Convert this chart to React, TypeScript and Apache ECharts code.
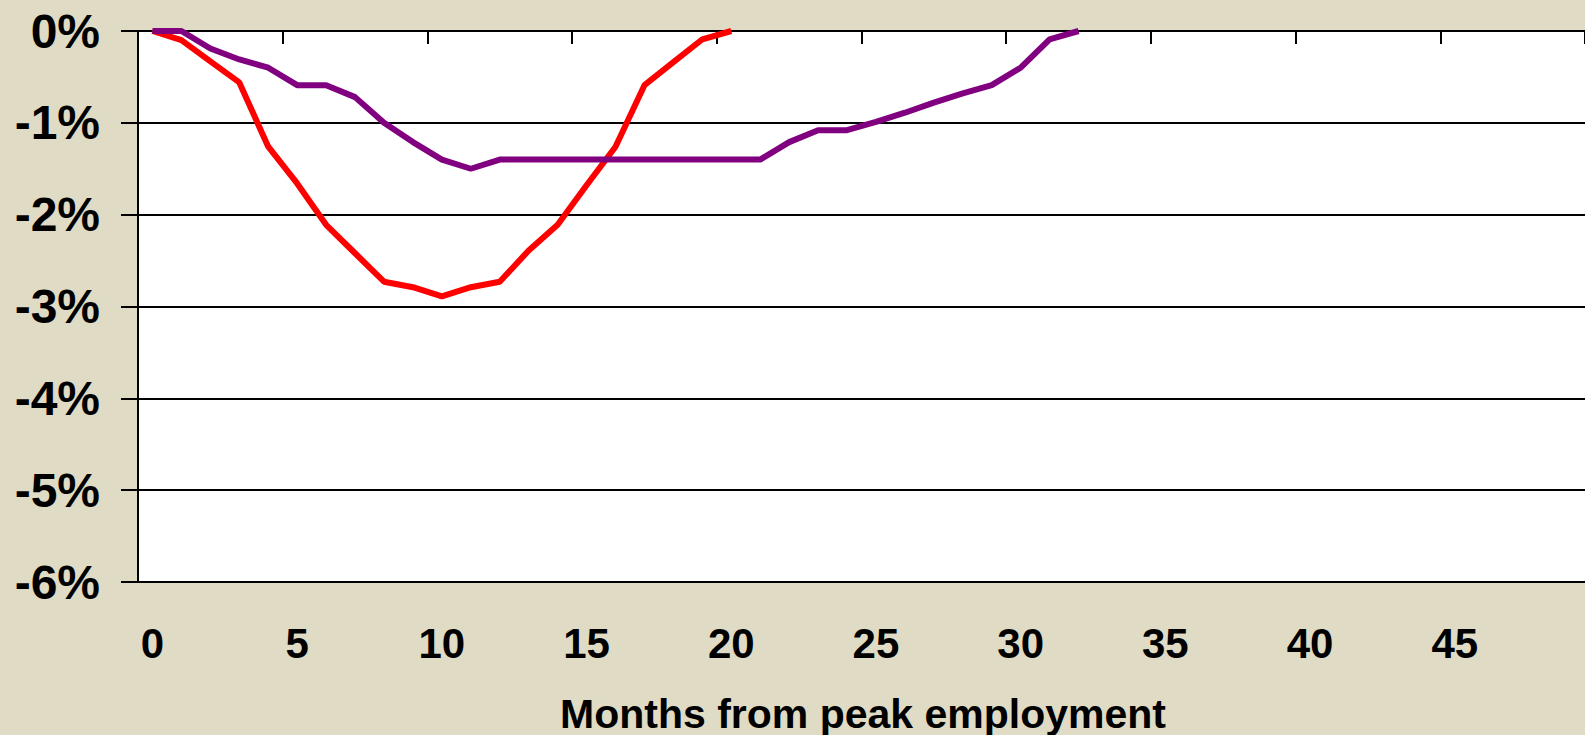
import React, { useEffect, useRef } from "react";
import * as echarts from "echarts";

const months: string[] = [];
for (let i = 0; i < 50; i++) months.push(String(i));

const redSeries = [
  0, -0.1, -0.33, -0.56, -1.26, -1.66, -2.11, -2.42, -2.73, -2.79, -2.89,
  -2.79, -2.73, -2.39, -2.11, -1.68, -1.26, -0.59, -0.34, -0.09, 0,
];

const purpleSeries = [
  0, 0, -0.19, -0.31, -0.4, -0.59, -0.59, -0.72, -1.0, -1.21, -1.4, -1.5,
  -1.4, -1.4, -1.4, -1.4, -1.4, -1.4, -1.4, -1.4, -1.4, -1.4, -1.21, -1.08,
  -1.08, -0.99, -0.89, -0.78, -0.68, -0.59, -0.4, -0.09, 0,
];

const axisTitle = "Months from peak employment";
const FONT = "'Liberation Sans', Arial, sans-serif";

export default function App() {
  const ref = useRef<HTMLDivElement>(null);
  useEffect(() => {
    document.body.style.margin = "0";
    document.body.style.background = "#DFDBC5";
    const chart = echarts.init(ref.current!, null, { renderer: "svg" });
    chart.setOption({
      animation: false,
      backgroundColor: "#DFDBC5",
      textStyle: { fontFamily: FONT },
      grid: {
        left: 138,
        top: 31,
        width: 1450,
        height: 551,
        show: true,
        backgroundColor: "#ffffff",
        borderWidth: 0,
      },
      xAxis: [
        {
          type: "category",
          data: months,
          position: "bottom",
          boundaryGap: true,
          axisLine: { show: true, lineStyle: { color: "#000", width: 2 } },
          axisTick: { show: false },
          axisLabel: {
            interval: 4,
            margin: 40,
            fontSize: 42,
            fontWeight: "bold",
            color: "#000",
            fontFamily: FONT,
          },
          splitLine: { show: false },
        },
        {
          type: "category",
          data: months,
          position: "top",
          boundaryGap: true,
          axisLine: { show: false },
          axisTick: {
            show: true,
            inside: true,
            length: 13,
            interval: (i: number) => i % 5 === 0 && i > 0,
            lineStyle: { color: "#000", width: 2 },
          },
          axisLabel: { show: false },
          splitLine: { show: false },
        },
      ],
      yAxis: {
        type: "value",
        min: -6,
        max: 0,
        interval: 1,
        axisLine: { show: true, lineStyle: { color: "#000", width: 2 } },
        axisTick: { show: true, length: 17, lineStyle: { color: "#000", width: 2 } },
        axisLabel: {
          margin: 38,
          fontSize: 48,
          fontWeight: "bold",
          color: "#000",
          fontFamily: FONT,
          formatter: (v: number) => `${v}%`,
        },
        splitLine: { show: true, lineStyle: { color: "#000", width: 2 } },
      },
      graphic: [
        {
          type: "text",
          x: 863,
          y: 693,
          style: {
            text: axisTitle,
            fontSize: 41,
            fontWeight: "bold",
            fontFamily: FONT,
            fill: "#000",
            align: "center",
            verticalAlign: "top",
          },
        },
      ],
      series: [
        {
          type: "line",
          data: redSeries,
          xAxisIndex: 0,
          showSymbol: false,
          symbol: "none",
          lineStyle: { color: "#FF0000", width: 6 },
          z: 3,
        },
        {
          type: "line",
          data: purpleSeries,
          xAxisIndex: 0,
          showSymbol: false,
          symbol: "none",
          lineStyle: { color: "#800080", width: 6 },
          z: 4,
        },
      ],
    });
    return () => chart.dispose();
  }, []);
  return (
    <div
      ref={ref}
      style={{ position: "fixed", left: 0, top: 0, width: 1585, height: 735 }}
    />
  );
}
